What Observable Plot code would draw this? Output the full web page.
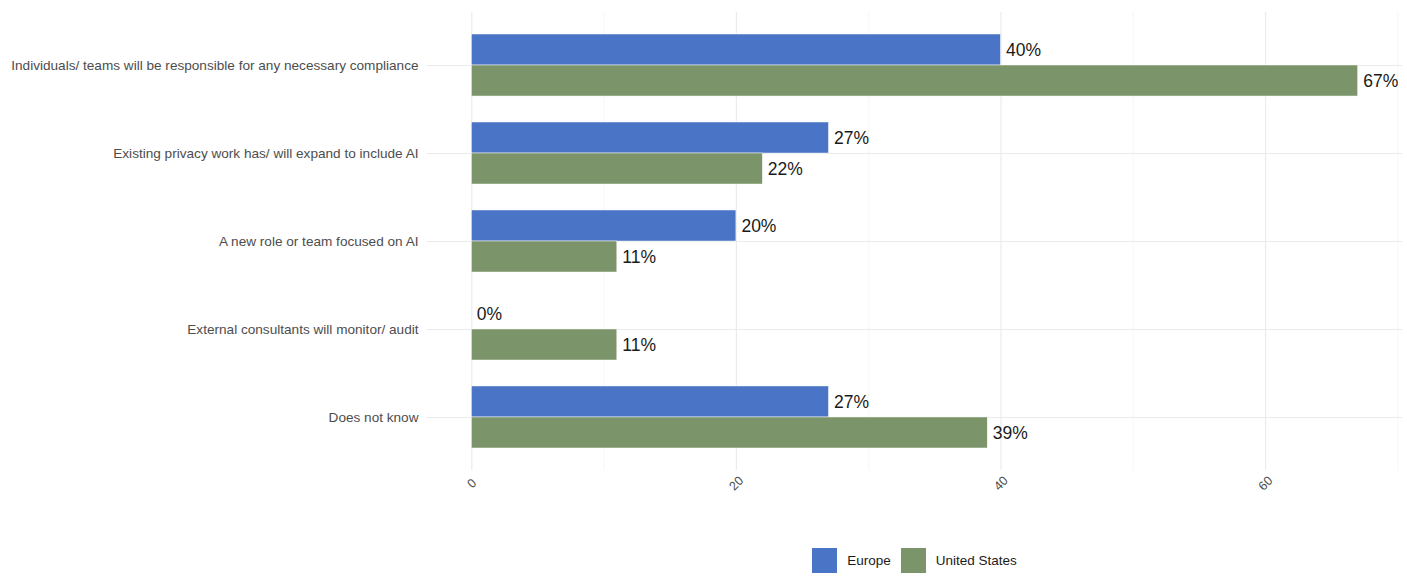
<!DOCTYPE html>
<html><head><meta charset="utf-8">
<script src="https://cdn.jsdelivr.net/npm/d3@7"></script>
<script src="https://cdn.jsdelivr.net/npm/@observablehq/plot@0.6"></script>
<style>
body{margin:0;background:#fff;font-family:"Liberation Sans",Arial,sans-serif}
#legend{height:44px;box-sizing:border-box;padding-left:427px;padding-right:5px;display:flex;justify-content:center;align-items:center;padding-top:6px}
.item{display:flex;align-items:center;margin:0 5px;font-size:13.5px;color:#1a1a1a}
.sw{width:25px;height:25px;margin-right:10px}
</style>
</head><body><div id="chart"></div><div id="legend"></div>
<script>
const categories = [
  "Individuals/ teams will be responsible for any necessary compliance",
  "Existing privacy work has/ will expand to include AI",
  "A new role or team focused on AI",
  "External consultants will monitor/ audit",
  "Does not know"
];
const europe = [40, 27, 20, 0, 27];
const unitedStates = [67, 22, 11, 11, 39];
const seriesNames = ["Europe", "United States"];
const seriesColors = ["#4a74c5", "#7c946a"];
const xTicks = [0, 20, 40, 60];
const xMinorTicks = [10, 30, 50, 70];

const eu = categories.map((c, i) => ({category: c, series: seriesNames[0], value: europe[i]}));
const us = categories.map((c, i) => ({category: c, series: seriesNames[1], value: unitedStates[i]}));
const half = 31;

const chart = Plot.plot({
  width: 1407,
  height: 535,
  marginTop: 12,
  marginBottom: 65,
  marginLeft: 427,
  marginRight: 5,
  style: {fontFamily: '"Liberation Sans", Arial, sans-serif', background: "#fff"},
  x: {domain: [-3.35, 70.35]},
  y: {domain: categories, paddingInner: 0.295, paddingOuter: 0.25, round: false},
  marks: [
    Plot.ruleX(xMinorTicks, {stroke: "#f2f2f2", strokeWidth: 0.7}),
    Plot.ruleX(xTicks, {stroke: "#ebebeb", strokeWidth: 1.2}),
    Plot.gridY({stroke: "#ebebeb", strokeOpacity: 1, strokeWidth: 1.2}),
    Plot.barX(eu, {x: "value", y: "category", fill: seriesColors[0], insetBottom: half, stroke: "#ffffff", strokeWidth: 0.5}),
    Plot.barX(us, {x: "value", y: "category", fill: seriesColors[1], insetTop: half, stroke: "#ffffff", strokeWidth: 0.5}),
    Plot.text(eu, {x: "value", y: "category", text: d => d.value + "%", dx: 5, dy: -15.5, textAnchor: "start", fontSize: 17.5, fill: "#1a1a1a"}),
    Plot.text(us, {x: "value", y: "category", text: d => d.value + "%", dx: 5, dy: 15.5, textAnchor: "start", fontSize: 17.5, fill: "#1a1a1a"}),
    Plot.axisY({tickSize: 0, tickPadding: 9, fontSize: 13.6, color: "#4d4d4d", label: null}),
    Plot.axisX({ticks: xTicks, tickSize: 0, tickRotate: -45, textAnchor: "middle", tickPadding: 13, fontSize: 12.5, color: "#4d4d4d", label: null})
  ]
});
document.getElementById("chart").appendChild(chart);

const legend = document.getElementById("legend");
seriesNames.forEach((n, i) => {
  const it = document.createElement("div");
  it.className = "item";
  const sw = document.createElement("div");
  sw.className = "sw";
  sw.style.background = seriesColors[i];
  const t = document.createElement("span");
  t.textContent = n;
  it.appendChild(sw); it.appendChild(t);
  legend.appendChild(it);
});
</script>
</body></html>
